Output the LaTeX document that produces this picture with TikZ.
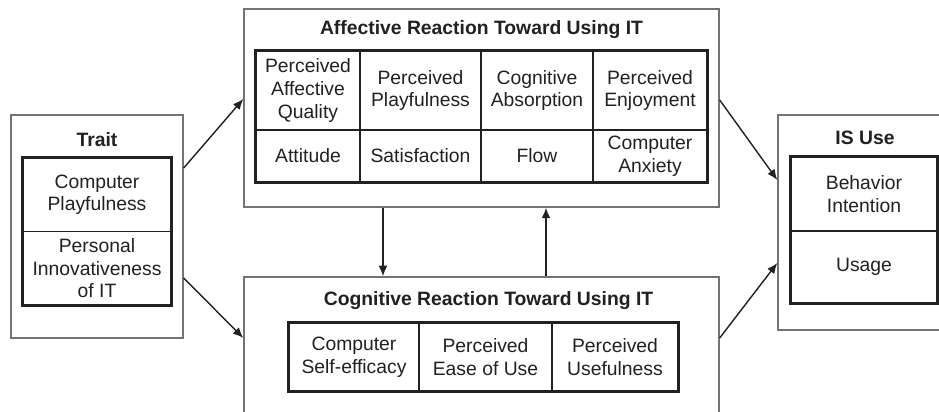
\documentclass[tikz,border=0pt]{standalone}
\usepackage{fontspec}
\setmainfont{Liberation Sans}
\usetikzlibrary{arrows.meta}

\definecolor{framegray}{gray}{0.45}
\definecolor{inkgray}{gray}{0.13}

\tikzset{
	outerbox/.style={draw=framegray, line width=0.8pt, rectangle, inner sep=0pt},
	cellbox/.style={draw=inkgray, line width=0.7pt, rectangle, inner sep=0pt, align=center,
		text=inkgray, font=\fontsize{11}{13}\selectfont},
	boxtitle/.style={text=inkgray, font=\fontsize{11}{13}\selectfont\bfseries},
	tableframe/.style={draw=inkgray, line width=1.5pt},
	flow/.style={-{Latex[length=6pt,width=5pt]}, draw=inkgray, line width=0.8pt}
}

\begin{document}
\begin{tikzpicture}
	\clip (0,0) rectangle (18.78,8.24);
	\fill[white] (0,0) rectangle (18.78,8.24);

	% the four outer boxes
	\node[outerbox, minimum width=3.44cm, minimum height=4.46cm] (trait) at (1.94,3.71) {};
	\node[outerbox, minimum width=9.50cm, minimum height=3.96cm] (affective) at (9.63,6.08) {};
	\node[outerbox, minimum width=9.50cm, minimum height=3.30cm] (cognitive) at (9.63,1.05) {};
	\node[outerbox, minimum width=3.48cm, minimum height=4.30cm] (isuse) at (17.30,3.79) {};

	% titles
	\node[boxtitle] (traittitle) at (1.94,5.44) {Trait};
	\node[boxtitle] (afftitle) at (9.63,7.64) {Affective Reaction Toward Using IT};
	\node[boxtitle] (cogtitle) at (9.77,2.22) {Cognitive Reaction Toward Using IT};
	\node[boxtitle] (usetitle) at (17.30,5.48) {IS Use};

	% trait
	\node[cellbox, minimum width=2.96cm, minimum height=1.47cm] (t1) at (1.94,4.345) {Computer\\Playfulness};
	\node[cellbox, minimum width=2.96cm, minimum height=1.47cm] (t2) at (1.94,2.875) {Personal\\Innovativeness\\of IT};
	\draw[tableframe] (t1.north west) rectangle (t2.south east);

	% affective reaction
	\node[cellbox, minimum width=2.08cm, minimum height=1.58cm] (a1) at (6.16,6.43) {Perceived\\Affective\\Quality};
	\node[cellbox, minimum width=2.42cm, minimum height=1.58cm] (a2) at (8.41,6.43) {Perceived\\Playfulness};
	\node[cellbox, minimum width=2.24cm, minimum height=1.58cm] (a3) at (10.74,6.43) {Cognitive\\Absorption};
	\node[cellbox, minimum width=2.28cm, minimum height=1.58cm] (a4) at (13.00,6.43) {Perceived\\Enjoyment};
	\node[cellbox, minimum width=2.08cm, minimum height=1.04cm] (a5) at (6.16,5.12) {Attitude};
	\node[cellbox, minimum width=2.42cm, minimum height=1.04cm] (a6) at (8.41,5.12) {Satisfaction};
	\node[cellbox, minimum width=2.24cm, minimum height=1.04cm] (a7) at (10.74,5.12) {Flow};
	\node[cellbox, minimum width=2.28cm, minimum height=1.04cm] (a8) at (13.00,5.12) {Computer\\Anxiety};
	\draw[tableframe] (a1.north west) rectangle (a8.south east);

	% cognitive reaction
	\node[cellbox, minimum width=2.60cm, minimum height=1.36cm] (c1) at (7.08,1.10) {Computer\\Self-efficacy};
	\node[cellbox, minimum width=2.66cm, minimum height=1.36cm] (c2) at (9.71,1.10) {Perceived\\Ease of Use};
	\node[cellbox, minimum width=2.52cm, minimum height=1.36cm] (c3) at (12.30,1.10) {Perceived\\Usefulness};
	\draw[tableframe] (c1.north west) rectangle (c3.south east);

	% IS use
	\node[cellbox, minimum width=2.92cm, minimum height=1.48cm] (u1) at (17.28,4.36) {Behavior\\Intention};
	\node[cellbox, minimum width=2.92cm, minimum height=1.44cm] (u2) at (17.28,2.90) {Usage};
	\draw[tableframe] (u1.north west) rectangle (u2.south east);

	% arrows
	\draw[flow] ([yshift=1.17cm]trait.east) -- ([yshift=0.18cm]affective.west);
	\draw[flow] ([yshift=-1.03cm]trait.east) -- ([yshift=0.43cm]cognitive.west);
	\draw[flow] ([yshift=0.16cm]affective.east) -- ([yshift=0.85cm]isuse.west);
	\draw[flow] ([yshift=0.43cm]cognitive.east) -- ([yshift=-0.81cm]isuse.west);
	\draw[flow] ([xshift=-1.97cm]affective.south) -- ([xshift=-1.97cm]cognitive.north);
	\draw[flow] ([xshift=1.29cm]cognitive.north) -- ([xshift=1.29cm]affective.south);
\end{tikzpicture}
\end{document}
